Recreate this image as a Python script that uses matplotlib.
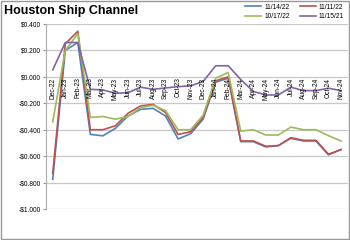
import matplotlib
matplotlib.use('Agg')
import matplotlib.pyplot as plt
import matplotlib.transforms as mtransforms
from matplotlib.patches import Rectangle

# Data
months = ['Dec-22', 'Jan-23', 'Feb-23', 'Mar-23', 'Apr-23', 'May-23', 'Jun-23', 'Jul-23',
          'Aug-23', 'Sep-23', 'Oct-23', 'Nov-23', 'Dec-23', 'Jan-24', 'Feb-24', 'Mar-24',
          'Apr-24', 'May-24', 'Jun-24', 'Jul-24', 'Aug-24', 'Sep-24', 'Oct-24', 'Nov-24']
s_111422 = [-0.775, 0.20, 0.26, -0.435, -0.446, -0.39, -0.296, -0.246, -0.238, -0.296, -0.47, -0.43,
            -0.32, -0.04, -0.01, -0.49, -0.49, -0.53, -0.52, -0.465, -0.485, -0.485, -0.59, -0.55]
s_111122 = [-0.73, 0.25, 0.345, -0.40, -0.40, -0.37, -0.276, -0.22, -0.208, -0.27, -0.436, -0.415,
            -0.307, -0.03, 0.0, -0.485, -0.485, -0.525, -0.52, -0.46, -0.48, -0.48, -0.585, -0.55]
s_101722 = [-0.34, 0.20, 0.327, -0.307, -0.30, -0.32, -0.30, -0.233, -0.215, -0.256, -0.40, -0.40,
            -0.29, -0.01, 0.033, -0.41, -0.40, -0.44, -0.44, -0.38, -0.40, -0.40, -0.445, -0.485]
s_111521 = [0.053, 0.26, 0.26, -0.094, -0.099, -0.124, -0.12, -0.078, -0.094, -0.084, -0.074, -0.068,
            -0.035, 0.084, 0.084, -0.02, -0.11, -0.137, -0.137, -0.078, -0.104, -0.104, -0.086, -0.104]
yticks = [0.4, 0.2, 0.0, -0.2, -0.4, -0.6, -0.8, -1.0]

plt.rcParams['font.family'] = ['Liberation Sans', 'DejaVu Sans']

fig = plt.figure(figsize=(3.5, 2.4), dpi=100)
ax = fig.add_axes([0.131, 0.129, 0.863, 0.771])

x = list(range(len(months)))
l1, = ax.plot(x, s_111422, color='#4F81BD', lw=1.2, label='11/14/22')
l2, = ax.plot(x, s_111122, color='#C0504D', lw=1.2, label='11/11/22')
l3, = ax.plot(x, s_101722, color='#9BBB59', lw=1.2, label='10/17/22')
l4, = ax.plot(x, s_111521, color='#8064A2', lw=1.2, label='11/15/21')

ax.set_ylim(-1.0, 0.4)
ax.set_xlim(-0.55, len(months) - 0.45)
ax.set_yticks(yticks)
ax.set_yticklabels([('-$%.3f' % abs(v)) if v < 0 else ('$%.3f' % v) for v in yticks], fontsize=4.8)
ax.grid(axis='y', color='#c8c8c8', lw=0.9)
ax.set_axisbelow(True)
ax.set_xticks([])
ax.tick_params(axis='y', length=2, color='#999999', pad=1.5)
for side in ['top', 'right', 'bottom']:
    ax.spines[side].set_visible(False)
ax.spines['left'].set_color('#aaaaaa')

# category labels sit under the zero line
trans = mtransforms.blended_transform_factory(ax.transData, ax.transData)
for i, m in enumerate(months):
    ax.text(i, -0.005, m, rotation=90, ha='center', va='top', fontsize=4.8, transform=trans)

fig.text(0.01, 0.955, 'Houston Ship Channel', fontsize=9, fontweight='bold', va='center', ha='left')
# column-wise fill, so order gives rows 11/14, 11/11 / 10/17, 11/15
fig.legend([l1, l3, l2, l4], ['11/14/22', '10/17/22', '11/11/22', '11/15/21'],
           loc='upper right', bbox_to_anchor=(1.0, 1.01), ncol=2, fontsize=4.8, frameon=False,
           handlelength=2.4, columnspacing=1.5, labelspacing=0.4, handletextpad=0.5)

fig.patches.append(Rectangle((0.003, 0.006), 0.994, 0.99, transform=fig.transFigure,
                             fill=False, edgecolor='#999999', lw=1))

fig.savefig('out.png', dpi=100)
